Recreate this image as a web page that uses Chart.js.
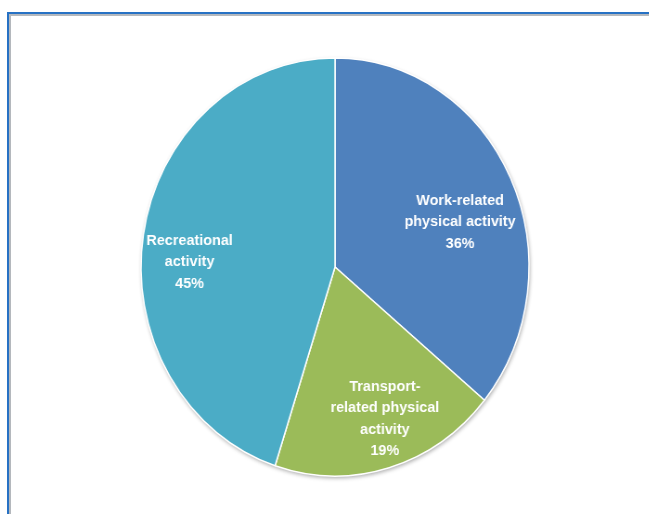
<!DOCTYPE html>
<html lang="en">
<head>
<meta charset="UTF-8">
<title>Physical activity by domain</title>
<script src="https://cdn.jsdelivr.net/npm/chart.js"></script>
<style>
  html, body { margin: 0; padding: 0; background: #fff; }
  #wrap { position: relative; width: 649px; height: 514px; overflow: hidden; }
  #frame { position: absolute; left: 7px; top: 12px; right: -10px; bottom: -10px;
           border-top: 2px solid #2671c4; border-left: 2px solid #2671c4; }
  #frame2 { position: absolute; left: 0; top: 0; right: 0; bottom: 0;
            border-top: 2px solid #b4b8bd; border-left: 2px solid #b4b8bd; }
  #pie { position: absolute; left: 0; top: 0; transform: scaleX(0.928); transform-origin: 335px 0; }
</style>
</head>
<body>
<div id="wrap">
  <div id="frame"><div id="frame2"></div></div>
  <canvas id="pie" width="649" height="514" style="width:649px;height:514px"></canvas>
</div>
<script>
const labels = [
  ['Work-related', 'physical activity'],
  ['Transport-', 'related physical', 'activity'],
  ['Recreational', 'activity']
];
const shares = [36, 19, 45];
const colours = ['#4f81bd', '#9bbb59', '#4bacc6'];

// where each label sits: fraction of radius and angle nudge (degrees)
const labelSpots = [
  { r: 0.68, da: 6.7 },
  { r: 0.77, da: -3.3 },
  { r: 0.75, da: -7.2 }
];

const pieShadow = {
  id: 'pieShadow',
  beforeDatasetsDraw(chart) {
    const arc = chart.getDatasetMeta(0).data[0];
    const ctx = chart.ctx;
    ctx.save();
    ctx.shadowColor = 'rgba(0,0,0,0.35)';
    ctx.shadowBlur = 4;
    ctx.shadowOffsetX = 1;
    ctx.shadowOffsetY = 2;
    ctx.fillStyle = '#fff';
    ctx.beginPath();
    ctx.arc(arc.x, arc.y, arc.outerRadius, 0, Math.PI * 2);
    ctx.fill();
    ctx.restore();
  }
};

const sliceLabels = {
  id: 'sliceLabels',
  afterDatasetsDraw(chart) {
    const ctx = chart.ctx;
    ctx.save();
    ctx.fillStyle = '#fff';
    ctx.font = 'bold 15.5px "Liberation Sans", Arial, sans-serif';
    ctx.textAlign = 'center';
    ctx.textBaseline = 'middle';
    chart.getDatasetMeta(0).data.forEach((arc, i) => {
      const spot = labelSpots[i];
      const mid = (arc.startAngle + arc.endAngle) / 2 + spot.da * Math.PI / 180;
      const cx = arc.x + Math.cos(mid) * arc.outerRadius * spot.r;
      const cy = arc.y + Math.sin(mid) * arc.outerRadius * spot.r;
      const lines = labels[i].concat([shares[i] + '%']);
      const lh = 21.5;
      const top = cy - (lines.length - 1) * lh / 2;
      lines.forEach((t, k) => ctx.fillText(t, cx, top + k * lh));
    });
    ctx.restore();
  }
};

new Chart(document.getElementById('pie'), {
  type: 'pie',
  data: {
    labels: labels.map(l => l.join(' ')),
    datasets: [{
      data: shares,
      backgroundColor: colours,
      borderColor: '#ffffff',
      borderWidth: 1.5
    }]
  },
  options: {
    responsive: false,
    animation: false,
    radius: 209,
    layout: { padding: { left: 21, top: 58, bottom: 38, right: 0 } },
    plugins: {
      legend: { display: false },
      tooltip: { enabled: false }
    }
  },
  plugins: [pieShadow, sliceLabels]
});
</script>
</body>
</html>
